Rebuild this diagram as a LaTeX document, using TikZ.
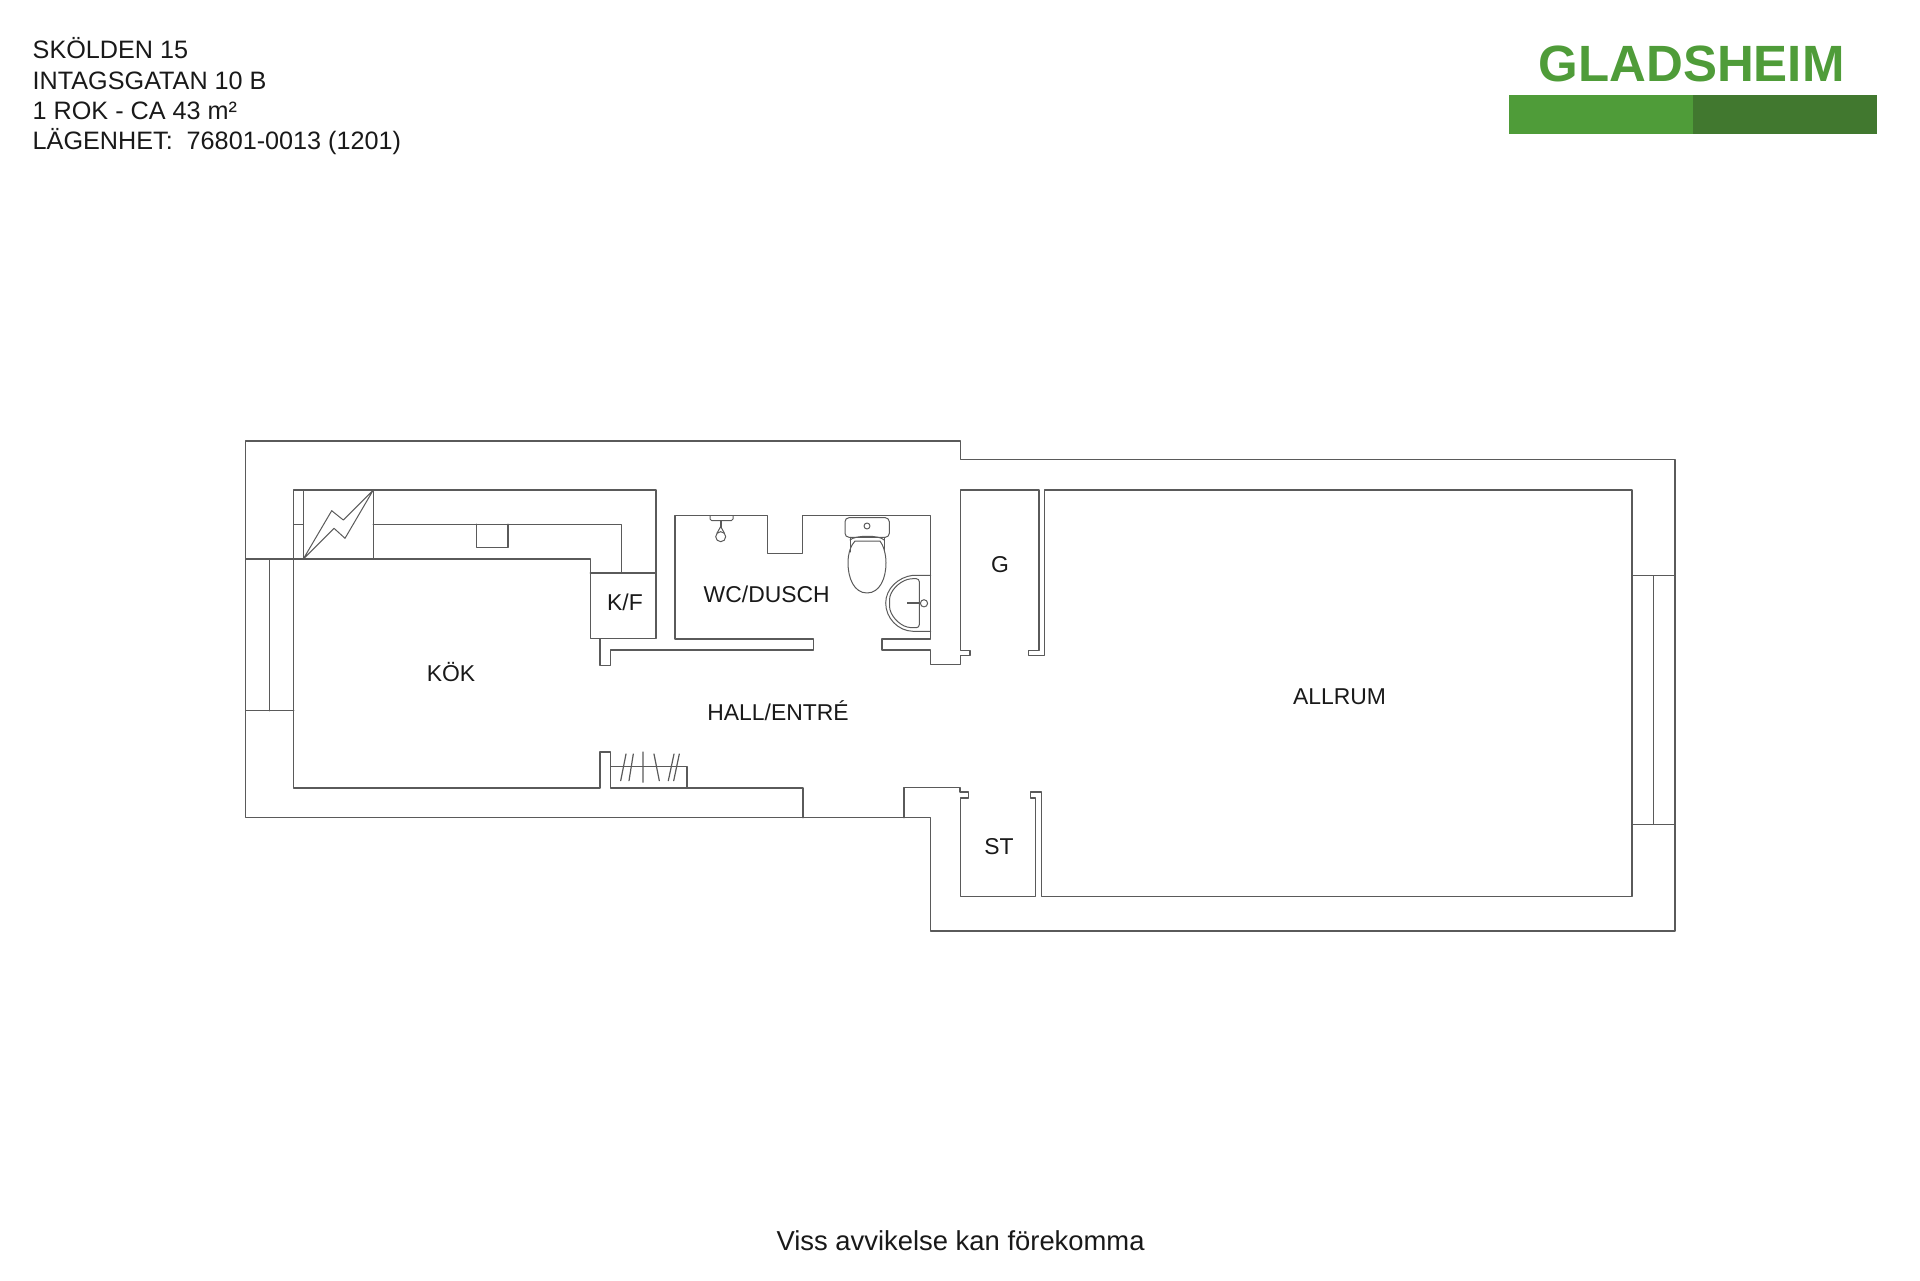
\documentclass[tikz,border=0pt]{standalone}
\usepackage{fontspec}
\setmainfont{Liberation Sans}
\definecolor{wall}{HTML}{5A5A5A}
\definecolor{logolight}{HTML}{4F9C39}
\definecolor{logodark}{HTML}{41782F}
\tikzset{
  wallline/.style={draw=wall,line width=1.4pt,line join=round,line cap=round},
  thinline/.style={draw=wall,line width=1pt,line join=round,line cap=round},
  roomlabel/.style={anchor=base,inner sep=0pt,font=\fontsize{22.9}{24}\selectfont,text=black!90},
  headline/.style={anchor=base west,inner sep=0pt,font=\fontsize{25.2}{28}\selectfont,text=black!90}
}
\begin{document}
\begin{tikzpicture}[x=1pt,y=-1pt]
\useasboundingbox (0,0) rectangle (1920,1281);
% outer wall
\draw[wallline] (245.7,441) -- (960.5,441) -- (960.5,459.7) -- (1675,459.7) -- (1675,931) -- (930.7,931) -- (930.7,817.7) -- (245.7,817.7) -- cycle;
% kitchen and counter
\draw[wallline] (245.7,559) -- (590.3,559) -- (590.3,638.7) -- (656,638.7) -- (656,490) -- (293.7,490) -- (293.7,788) -- (600,788) -- (600,752) -- (610.7,752) -- (610.7,788) -- (803,788) -- (803,817.7);
\draw[thinline] (293.7,524.3) -- (303.3,524.3);
\draw[wallline] (373.3,524.3) -- (621.7,524.3) -- (621.7,573);
\draw[wallline] (590.3,573) -- (656,573);
\draw[wallline] (303.3,490) rectangle (373.3,559);
\draw[wallline] (476.3,524.3) -- (476.3,547.7) -- (508,547.7) -- (508,524.3);
% stove
\draw[thinline] (303.3,559) -- (331.7,510.7) -- (343.3,520) -- (373.3,490) -- (345,538.3) -- (334,528.3) -- cycle;
% left window
\draw[wallline] (269.7,559) -- (269.7,710.7);
\draw[wallline] (245.7,710.7) -- (293.7,710.7);
% closet hangers
\draw[wallline] (610.7,766.7) -- (687,766.7) -- (687,788);
\draw[thinline,line width=1.2pt] (620.7,780.7) -- (626,754) (629,780.7) -- (633.3,754) (643,752) -- (643,782.3) (654,754) -- (659.3,780.7) (668.3,780.7) -- (674,754) (673.7,780.7) -- (679.3,754);
% hall north wall
\draw[wallline] (600,638.7) -- (600,665.3) -- (610.7,665.3) -- (610.7,650) -- (813.3,650) -- (813.3,639) -- (675,639) -- (675,515.3) -- (767.3,515.3) -- (767.3,553.3) -- (802.3,553.3) -- (802.3,515.3) -- (930.7,515.3) -- (930.7,639) -- (882,639) -- (882,650) -- (930.7,650) -- (930.7,664.3) -- (960.7,664.3) -- (960.7,655.7) -- (970,655.7) -- (970,650.3) -- (960.7,650.3) -- (960.7,490) -- (1039,490) -- (1039,650.3) -- (1028.7,650.3) -- (1028.7,655.7) -- (1044.3,655.7) -- (1044.3,490) -- (1632,490) -- (1632,896.7) -- (1041.3,896.7) -- (1041.3,792) -- (1030.3,792) -- (1030.3,798) -- (1035.3,798) -- (1035.3,896.7) -- (960.7,896.7) -- (960.7,798) -- (968.7,798) -- (968.7,792) -- (960,792) -- (960,787.7) -- (904,787.7) -- (904,817.7);
% right window
\draw[wallline] (1653.3,575.7) -- (1653.3,824.3);
\draw[wallline] (1632,575.7) -- (1675,575.7) (1632,824.3) -- (1675,824.3);
% shower
\draw[thinline,rounded corners=1.5pt] (710,516) -- (710,520.5) -- (733,520.5) -- (733,516);
\draw[draw=wall,line width=2pt] (721,520.5) -- (721,528);
\draw[thinline] (720.7,536.7) circle[radius=5];
\draw[thinline] (717,533.2) -- (720.7,526.5) -- (724.4,533.2);
% toilet
\draw[thinline,rounded corners=4pt] (845,517.7) rectangle (889.3,537.3);
\draw[thinline] (867,526) circle[radius=3];
\draw[thinline] (850,537.3) -- (850,552) (884,537.3) -- (884,552);
\draw[thinline] (867,593) .. controls (854,593) and (848,578) .. (848,563) .. controls (848,553) and (851,545) .. (855,541) -- (880,541) .. controls (883,545) and (886,553) .. (886,563) .. controls (886,578) and (880,593) .. (867,593);
\draw[thinline] (850,540) .. controls (855,535) and (880,535) .. (884,540);
% wash basin
\draw[thinline] (930.7,575.3) -- (913,575.3) .. controls (898,577) and (885.7,589) .. (885.7,603) .. controls (885.7,618) and (898,631) .. (913,631.3) -- (930.7,631.3);
\draw[thinline,rounded corners=3pt] (919.3,578.7) -- (910,578.7) .. controls (899,582) and (889.5,591) .. (889.5,603) .. controls (889.5,615) and (899,625) .. (910,627.7) -- (919.3,627.7) -- cycle;
\draw[draw=wall,line width=2pt] (907,603.3) -- (920,603.3);
\draw[thinline,fill=white] (924,603.3) circle[radius=3.6];
% room labels
\node[roomlabel] (kok) at (451,681.5) {KÖK};
\node[roomlabel] (kf) at (625,610) {K/F};
\node[roomlabel] (wc) at (766.7,602) {WC/DUSCH};
\node[roomlabel] (hall) at (778,720) {HALL/ENTRÉ};
\node[roomlabel] (g) at (1000,572) {G};
\node[roomlabel] (st) at (999,854) {ST};
\node[roomlabel] (allrum) at (1339.6,704) {ALLRUM};
% header
\node[headline] (h1) at (32.5,59) {SKÖLDEN 15};
\node[headline] (h2) at (32.5,89.5) {INTAGSGATAN 10 B};
\node[headline] (h3) at (32.5,120) {1 ROK - CA 43 m²};
\node[headline] (h4) at (32.5,150) {LÄGENHET:\ \ 76801-0013 (1201)};
% logo
\fill[logolight] (1509,94.7) rectangle (1692.7,134.3);
\fill[logodark] (1692.7,94.7) rectangle (1876.7,134.3);
\node[anchor=base,inner sep=0pt,font=\fontsize{51}{54}\bfseries\selectfont,text=logolight] (logo) at (1691.5,81.5) {GLADSHEIM};
% footer
\node[anchor=base,inner sep=0pt,font=\fontsize{27.4}{30}\selectfont,text=black!90] (foot) at (960.6,1250.5) {Viss avvikelse kan förekomma};
\end{tikzpicture}
\end{document}
